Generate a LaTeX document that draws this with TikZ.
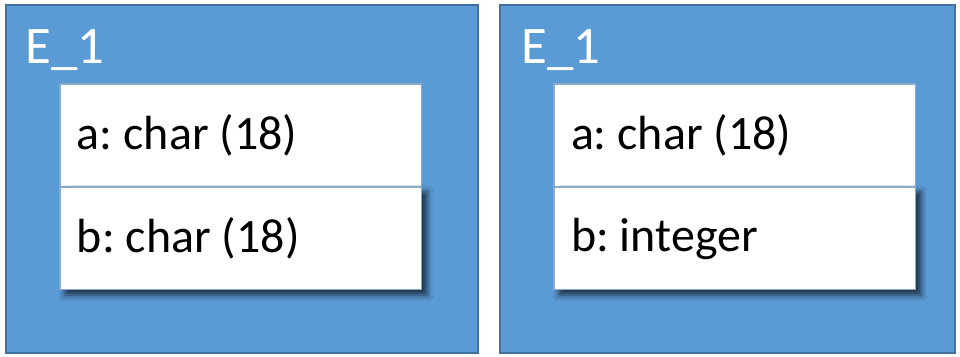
\documentclass[tikz,border=0pt]{standalone}
\usepackage{fontspec}
\setmainfont{Carlito}
\usetikzlibrary{positioning,shadows.blur}
\definecolor{panelblue}{HTML}{5B9BD5}
\definecolor{paneledge}{HTML}{41719C}
\definecolor{fieldedge}{HTML}{8EA9C7}

\begin{document}
\begin{tikzpicture}[x=0.02cm, y=-0.02cm]
  \tikzset{
    panel/.style={fill=panelblue, draw=paneledge, line width=0.6pt},
    title/.style={text=white, font=\fontsize{30}{32}\selectfont, inner sep=0pt, anchor=base west},
    field/.style={fill=white, draw=fieldedge, line width=0.6pt, outer sep=0pt,
      minimum width=7.24cm, minimum height=2.06cm, text width=6.56cm,
      inner xsep=0.34cm, align=flush left, font=\fontsize{27.3}{29}\selectfont\frenchspacing},
    shaded/.style={blur shadow={shadow xshift=0.1cm, shadow yshift=-0.1cm,
      shadow blur radius=0.12cm, shadow opacity=70}}
  }
  \useasboundingbox (0,0) rectangle (960,356);
  % left entity
  \draw[panel] (6,5) rectangle (478,353);
  \node[title] (t1) at (25,63) {E\_1};
  \node[field, anchor=north west] (a1) at (60,84) {a: char (18)};
  \node[field, shaded, below=0pt of a1] (b1) {b: char (18)};
  % right entity
  \draw[panel] (500,5) rectangle (955,353);
  \node[title] (t2) at (521,63) {E\_1};
  \node[field, anchor=north west] (a2) at (554,84) {a: char (18)};
  \node[field, shaded, below=0pt of a2] (b2) {b: integer};
\end{tikzpicture}
\end{document}
